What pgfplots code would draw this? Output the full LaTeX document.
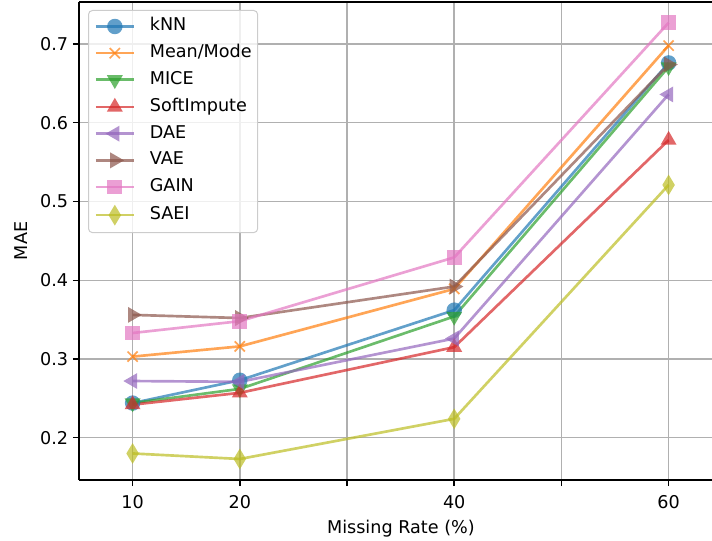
\documentclass[border=0pt]{standalone}
\usepackage{fontspec}
\setmainfont{DejaVu Sans}
\usepackage{pgfplots}
\pgfplotsset{compat=1.18}

\definecolor{tabblue}{HTML}{1F77B4}
\definecolor{taborange}{HTML}{FF7F0E}
\definecolor{tabgreen}{HTML}{2CA02C}
\definecolor{tabred}{HTML}{D62728}
\definecolor{tabpurple}{HTML}{9467BD}
\definecolor{tabbrown}{HTML}{8C564B}
\definecolor{tabpink}{HTML}{E377C2}
\definecolor{tabolive}{HTML}{BCBD22}
\definecolor{gridgray}{HTML}{B0B0B0}
\definecolor{legframe}{HTML}{CCCCCC}

\newcommand{\fs}{\fontsize{13.2}{15.8}\selectfont}

\begin{document}
\begin{tikzpicture}
\begin{axis}[
    scale only axis,
    width=474.75pt, height=358.5pt,
    xmin=5, xmax=64.05,
    ymin=0.1463, ymax=0.7534,
    axis x line*=box, axis y line*=left,
    axis line style={line width=1.06pt},
    tick pos=left, tick align=outside,
    major tick length=4.6pt,
    tick style={black, line width=1.06pt},
    xtick={10,20,30,40,50,60},
    xticklabels={10,20,,40,,60},
    xticklabel style={yshift=-3.5pt},
    ytick={0.2,0.3,0.4,0.5,0.6,0.7},
    yticklabel style={/pgf/number format/fixed,
        /pgf/number format/fixed zerofill,
        /pgf/number format/precision=1},
    /pgf/number format/assume math mode=true,
    ticklabel style={font=\fs},
    label style={font=\fs},
    xlabel={Missing Rate (\%)},
    ylabel={MAE},
    xlabel style={at={(ticklabel cs:0.5085)}, yshift=-1.5pt},
    ylabel style={yshift=3pt},
    grid=major,
    grid style={gridgray, line width=1.06pt},
    every axis plot/.append style={line width=2pt, opacity=0.7},
    legend cell align=left,
    legend image code/.code={
        \draw[mark repeat=2, mark phase=2, #1]
            plot coordinates {(0pt,0pt) (14.25pt,0pt) (28.5pt,0pt)};
    },
    legend style={
        at={(axis description cs:0,1)}, anchor=north west,
        xshift=6.75pt, yshift=-6pt,
        draw=legframe, line width=0.75pt, rounded corners=3pt,
        fill=white, fill opacity=0.8, text opacity=1,
        inner xsep=4.5pt, inner ysep=5.3pt,
        row sep=6.6pt, column sep=11pt,
        font=\fs,
        nodes={inner sep=0pt, text height=10pt, text depth=3.4pt},
    },
]

\addplot[tabblue, mark=*, mark size=5.8pt, mark options={draw opacity=0}]
    coordinates {(10,0.244) (20,0.273) (40,0.362) (60,0.676)};
\addlegendentry{kNN}

\addplot[taborange, mark=x, mark size=5.4pt, mark options={line width=1.3pt}]
    coordinates {(10,0.303) (20,0.316) (40,0.389) (60,0.698)};
\addlegendentry{Mean/Mode}

\addplot[tabgreen, mark=triangle*, mark size=6.9pt, mark options={draw opacity=0, rotate=180}]
    coordinates {(10,0.244) (20,0.262) (40,0.354) (60,0.671)};
\addlegendentry{MICE}

\addplot[tabred, mark=triangle*, mark size=6.9pt, mark options={draw opacity=0}]
    coordinates {(10,0.242) (20,0.257) (40,0.315) (60,0.578)};
\addlegendentry{SoftImpute}

\addplot[tabpurple, mark=triangle*, mark size=6.9pt, mark options={draw opacity=0, rotate=90}]
    coordinates {(10,0.272) (20,0.271) (40,0.326) (60,0.636)};
\addlegendentry{DAE}

\addplot[tabbrown, mark=triangle*, mark size=6.9pt, mark options={draw opacity=0, rotate=-90}]
    coordinates {(10,0.356) (20,0.352) (40,0.392) (60,0.674)};
\addlegendentry{VAE}

\addplot[tabpink, mark=square*, mark size=5.6pt, mark options={draw opacity=0}]
    coordinates {(10,0.333) (20,0.348) (40,0.429) (60,0.727)};
\addlegendentry{GAIN}

\addplot[tabolive, mark=diamond*, mark size=7.8pt, mark options={draw opacity=0, xscale=0.8}]
    coordinates {(10,0.180) (20,0.173) (40,0.224) (60,0.521)};
\addlegendentry{SAEI}

\end{axis}
\pgfresetboundingbox
\path[use as bounding box]
    ([xshift=-59.25pt, yshift=-45.75pt]current axis.south west)
    rectangle ([xshift=474.75pt, yshift=360pt]current axis.south west);
\end{tikzpicture}
\end{document}
